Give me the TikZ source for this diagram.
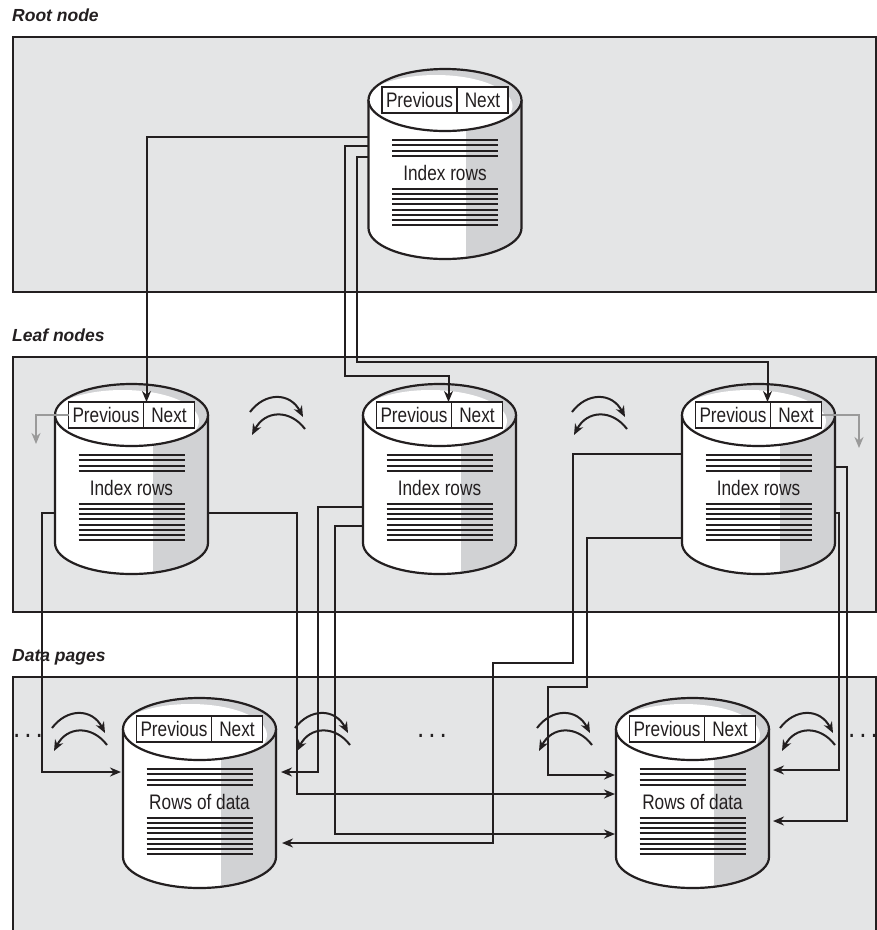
\documentclass[tikz,border=0pt]{standalone}
\usepackage{fontspec}
\setmainfont{Liberation Sans}
\newfontfamily\narrowfont[FakeStretch=0.82]{Liberation Sans}
\usetikzlibrary{arrows.meta,calc}
\definecolor{panelgray}{HTML}{E4E5E6}
\definecolor{shadegray}{HTML}{D1D2D4}
\definecolor{ink}{HTML}{231F20}
\definecolor{lightarrow}{HTML}{9A9A9A}
\tikzset{
  panel/.style={draw=ink, line width=2.4pt, fill=panelgray},
  conn/.style={draw=ink, line width=2pt, -{Stealth[length=11pt,width=9pt]}},
  grayconn/.style={draw=lightarrow, line width=2pt, -{Stealth[length=11pt,width=9pt]}},
  curv/.style={draw=ink, line width=2pt, -{Stealth[length=11pt,width=9pt]}},
  cell/.style={draw=ink, line width=1.9pt, fill=white, minimum height=26pt, inner sep=0pt, outer sep=0pt, text=ink, font=\narrowfont\fontsize{21}{25}\selectfont},
  txt/.style={inner sep=0pt, text=ink, font=\narrowfont\fontsize{21}{25}\selectfont},
  seclabel/.style={anchor=base west, inner sep=0pt, text=ink, font=\fontsize{17.5}{21}\selectfont\bfseries\itshape},
  dotlabel/.style={anchor=base, inner sep=0pt, text=ink, font=\narrowfont\fontsize{21}{25}\selectfont\bfseries},
  anchorbox/.style={inner sep=0pt, outer sep=0pt, minimum width=153pt, minimum height=0pt},
}
\newcommand\cylinder[4]{%
\begin{scope}[shift={(#1,#2)}]
  \path[fill=white] (-76.5,0) -- (-76.5,128) arc[start angle=180,end angle=0,x radius=76.5,y radius=31] -- (76.5,0) -- cycle;
  \begin{scope}
    \clip (-76.5,0) -- (-76.5,128) arc[start angle=180,end angle=0,x radius=76.5,y radius=31] -- (76.5,0) -- cycle;
    \fill[shadegray] (21,-1) rectangle (80,165);
  \end{scope}
  \draw[ink, line width=2.2pt] (-76.5,0) -- (-76.5,128) arc[start angle=180,end angle=0,x radius=76.5,y radius=31] -- (76.5,0);
  \fill[shadegray] (0,0) ellipse[x radius=76.5,y radius=31];
  \begin{scope}
    \clip (0,0) ellipse[x radius=76.5,y radius=31];
    \fill[white] (-9,6) ellipse[x radius=76.5,y radius=31];
  \end{scope}
  \draw[ink, line width=2.2pt] (0,0) ellipse[x radius=76.5,y radius=31];
  \foreach \yy/\ww in {40/1.5,45/1.5,51/2.1,56/1.5,89/2.1,94/1.5,99/2.1,104/1.5,110/2.1,115/1.5,120/2.1,125/1.5}
    \draw[ink, line width=\ww pt] (-53,\yy) -- (53,\yy);
  \node[txt] (#4text) at (0,73) {#3};
  \node[cell, minimum width=75pt] (#4prev) at (-25.5,0) {Previous};
  \node[cell, minimum width=51pt] (#4next) at (37.5,0) {Next};
  \node[anchorbox] (#4) at (0,0) {};
\end{scope}}
\newcommand\swaparrows[2]{%
\begin{scope}[shift={(#1,#2)}]
  \draw[curv] (0,0) .. controls (15,-20) and (40,-20) .. (53,5);
  \draw[curv] (55,17) .. controls (40,-3) and (15,-2) .. (2,23);
\end{scope}}
\begin{document}
\begin{tikzpicture}[x=1pt,y=-1pt]
\useasboundingbox (0,0) rectangle (877,930);
% panels
\draw[panel] (13,37) rectangle (876,292);
\draw[panel] (13,357) rectangle (876,612);
\fill[panelgray] (13,677) rectangle (876,931);
\draw[ink, line width=2.4pt] (13,933) -- (13,677) -- (876,677) -- (876,933);
% labels
\node[seclabel] (lblroot) at (12,21) {Root node};
\node[seclabel] (lblleaf) at (12,341) {Leaf nodes};
\node[seclabel] (lbldata) at (12,661) {Data pages};
% cylinders
\cylinder{445}{100}{Index rows}{root}
\cylinder{131.5}{415}{Index rows}{leafA}
\cylinder{439.5}{415}{Index rows}{leafB}
\cylinder{758.5}{415}{Index rows}{leafC}
\cylinder{199.5}{729}{Rows of data}{dataA}
\cylinder{692.5}{729}{Rows of data}{dataB}
% root to leaves
\draw[conn] ($(root.west)+(0,37)$) -| ($(leafAprev.north east)+(3,0)$);
\draw[conn] ($(root.west)+(0,46)$) -| (345,376) -| ($(leafBprev.north east)+(-3,0)$);
\draw[conn] ($(root.west)+(0,57)$) -| (357,362) -| ($(leafCprev.north east)+(-3,0)$);
% leaf A
\draw[conn] ($(leafA.west)+(0,98)$) -| (42,772) -- ($(dataA.west)+(-2,43)$);
\draw[conn] ($(leafA.east)+(0,98)$) -| (297,794) -- ($(dataB.west)+(-1,65)$);
% leaf B
\draw[conn] ($(leafB.west)+(0,92)$) -| (318,772) -- ($(dataA.east)+(5,43)$);
\draw[conn] ($(leafB.west)+(0,111)$) -| (335,834) -- ($(dataB.west)+(-1,105)$);
% leaf C
\draw[conn] ($(leafC.west)+(0,39)$) -| (573,663) -| (493,843) -- ($(dataA.east)+(6,114)$);
\draw[conn] ($(leafC.west)+(0,123)$) -| (587,687) -| (548,775) -- ($(dataB.west)+(-1,46)$);
\draw[conn] ($(leafC.east)+(0,52)$) -| (847,821) -- ($(dataB.east)+(4,92)$);
\draw[conn] ($(leafC.east)+(0,98)$) -| (839,770) -- ($(dataB.east)+(4,41)$);
% gray prev/next pointers
\draw[grayconn] (leafAprev.west) -| (36,444);
\draw[grayconn] (leafCnext.east) -| (859,448);
% swap arrows
\swaparrows{250}{412}
\swaparrows{572}{412}
\swaparrows{52}{728}
\swaparrows{295}{728}
\swaparrows{537}{728}
\swaparrows{780}{728}
% dots
\node[dotlabel] (dotsL) at (28,737) {. . .};
\node[dotlabel] (dotsM) at (432,737) {. . .};
\node[dotlabel] (dotsR) at (863,737) {. . .};
\end{tikzpicture}
\end{document}
